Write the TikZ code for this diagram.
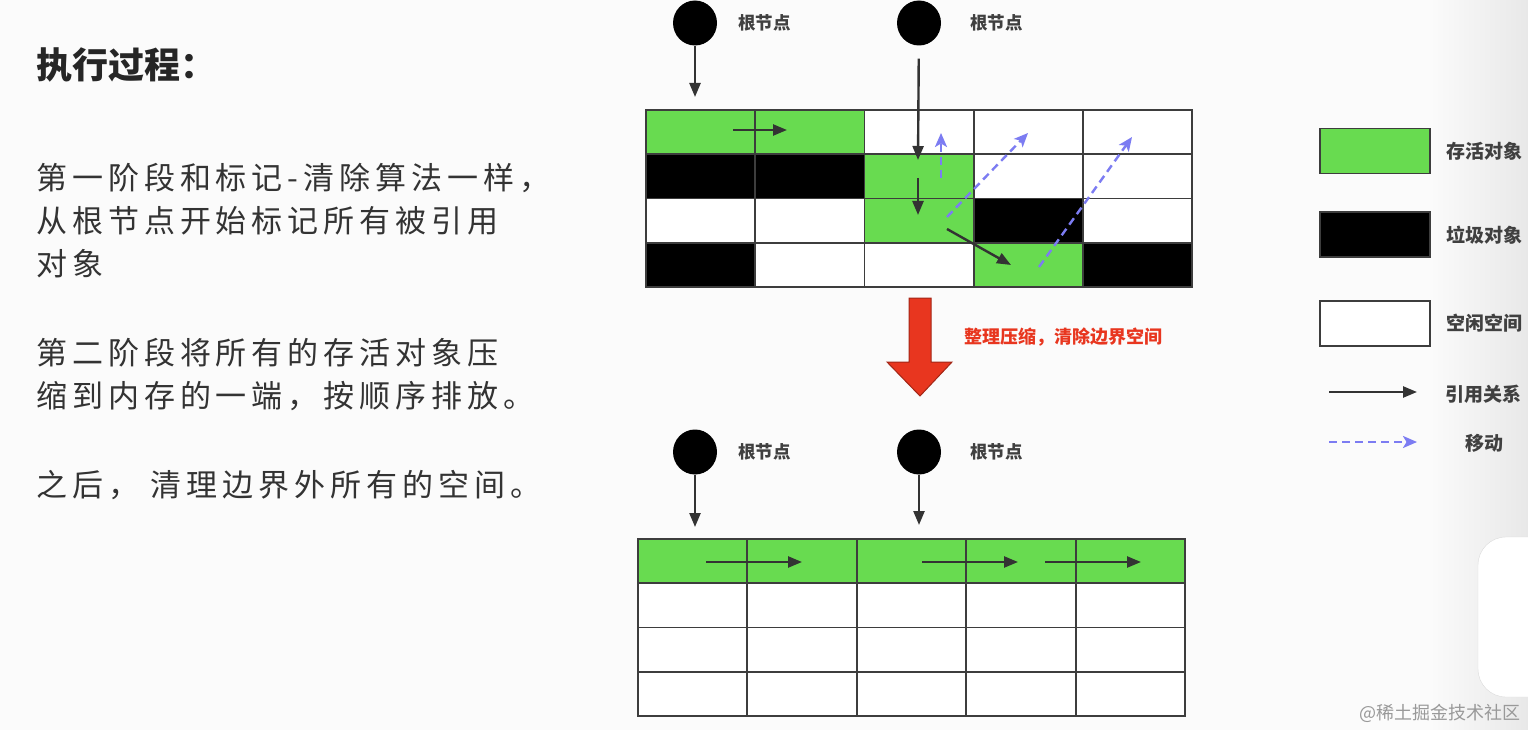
\documentclass[tikz,border=0pt]{standalone}
\usepackage{fontspec}
\usepackage{tikz}
\usetikzlibrary{positioning,arrows.meta}
\usetikzlibrary{shapes.geometric}
\newfontfamily\cjk{Noto Sans CJK SC}
\newfontfamily\cjkwide[LetterSpace=16]{Noto Sans CJK SC}
\definecolor{cL}{HTML}{68DB50}
\definecolor{cD}{HTML}{000000}
\definecolor{cF}{HTML}{FFFFFF}
\definecolor{gridc}{HTML}{3D3D3D}
\definecolor{refc}{HTML}{333333}
\definecolor{movec}{HTML}{7C7CF2}
\definecolor{squeezec}{HTML}{E8361F}
\definecolor{bgc}{HTML}{FBFBFB}
\tikzset{cell/.style={
        anchor=north west,
        minimum width=109.3pt,
        minimum height=44.25pt,
        inner sep=0pt, outer sep=0pt},
    gridline/.style={draw=gridc, line width=1.8pt},
    root/.style={ellipse, fill=black, minimum width=44pt, minimum height=45pt, inner sep=0pt},
    rootlbl/.style={font=\fontsize{17.5}{20}\cjk\bfseries, text=black!75, inner sep=0pt},
    ref/.style={draw=refc, line width=2.4pt, -{Triangle[length=14pt,width=11pt]}},
    move/.style={draw=movec, line width=2.4pt, dash pattern=on 8pt off 5pt,
        -{Stealth[length=14pt,width=12pt,inset=3.5pt]}},
    bodytext/.style={anchor=north west, align=left, inner sep=0pt,
        font=\fontsize{31}{43}\cjkwide, text=black!80},
    legbox/.style={draw=gridc, line width=1.8pt, minimum width=110pt, minimum height=45pt, inner sep=0pt},
    legtext/.style={font=\fontsize{19}{22}\cjk\bfseries, text=black!75, inner sep=0pt}
}

\begin{document}
\begin{tikzpicture}[x=1pt,y=-1pt]
\useasboundingbox (0,0) rectangle (1528,730);
\fill[bgc] (0,0) rectangle (1528,730);
\shade[left color=bgc, right color=black!9] (1430,0) rectangle (1528,730);
\draw[black!14, fill=white, rounded corners=28pt] (1478,537) rectangle (1570,697);

% left text
\node[anchor=west, inner sep=0pt, font=\fontsize{36}{40}\cjk\bfseries, text=black!85] (title) at (36,65) {执行过程：};
\node[bodytext] (para_1) at (36,163) {第一阶段和标记-清除算法一样，\\从根节点开始标记所有被引用\\对象};
\node[bodytext] (para_2) at (36,338) {第二阶段将所有的存活对象压\\缩到内存的一端，按顺序排放。};
\node[bodytext] (para_3) at (36,470) {之后， 清理边界外所有的空间。};

% before
\foreach \r/\row in {0/{L,L,F,F,F},1/{D,D,L,F,F},2/{F,F,L,D,F},3/{D,F,F,L,D}}
  \foreach \k [count=\c from 0] in \row
    \node[cell, fill=c\k] (top_\r_\c) at ({646+\c*109.2},{110+\r*44.25}) {};
\foreach \r in {0,...,3}
  \foreach \c in {0,...,4}
    \draw[gridline] (top_\r_\c.north west) rectangle (top_\r_\c.south east);

\node[root] (r_t1) at (695,23) {};
\node[root] (r_t2) at (919,23) {};
\node[rootlbl, right=21pt of r_t1] {根节点};
\node[rootlbl, right=29pt of r_t2] {根节点};

\coordinate (t_1) at (695,97);
\coordinate (t_2) at (918,160);
\coordinate (m_a) at (733,130);  \coordinate (m_b) at (787,130);
\coordinate (m_c) at (918,178);  \coordinate (m_d) at (918,215);
\coordinate (m_e) at (947,229);  \coordinate (m_f) at (1011,265);
\coordinate (v_1s) at (941,178); \coordinate (v_1e) at (941,133);
\coordinate (v_2s) at (947,217); \coordinate (v_2e) at (1028,133);
\coordinate (v_3s) at (1039,267);\coordinate (v_3e) at (1132,137);

\path[ref] (r_t1) -- (t_1);
\path[ref, shorten <=13pt] (r_t2) -- (t_2);
\path[ref] (m_a) -- (m_b);
\path[ref] (m_c) -- (m_d);
\path[ref] (m_e) -- (m_f);
\path[move] (v_1s) -- (v_1e);
\path[move] (v_2s) -- (v_2e);
\path[move] (v_3s) -- (v_3e);

% squeeze
\draw[fill=squeezec, draw=squeezec!70!black, line width=1pt]
  (909,298) -- (931,298) -- (931,362) -- (952,362) -- (920,396) -- (887,362) -- (909,362) -- cycle;
\node[anchor=west, inner sep=0pt, font=\fontsize{18}{20}\cjk\bfseries, text=squeezec] (squeeze_lbl) at (964,337) {整理压缩，清除边界空间};

% after
\foreach \r/\row in {0/{L,L,L,L,L},1/{F,F,F,F,F},2/{F,F,F,F,F},3/{F,F,F,F,F}}
  \foreach \k [count=\c from 0] in \row
    \node[cell, fill=c\k] (bot_\r_\c) at ({638+\c*109.4},{539+\r*44.25}) {};
\foreach \r in {0,...,3}
  \foreach \c in {0,...,4}
    \draw[gridline] (bot_\r_\c.north west) rectangle (bot_\r_\c.south east);

\node[root] (r_b1) at (695,452) {};
\node[root] (r_b2) at (919,452) {};
\node[rootlbl, right=21pt of r_b1] {根节点};
\node[rootlbl, right=29pt of r_b2] {根节点};

\coordinate (b_1) at (695,527);
\coordinate (b_2) at (919,525);
\coordinate (n_a) at (706,562);  \coordinate (n_b) at (802,562);
\coordinate (n_c) at (922,562);  \coordinate (n_d) at (1018,562);
\coordinate (n_e) at (1045,562); \coordinate (n_f) at (1141,562);
\path[ref] (r_b1) -- (b_1);
\path[ref] (r_b2) -- (b_2);
\path[ref] (n_a) -- (n_b);
\path[ref] (n_c) -- (n_d);
\path[ref] (n_e) -- (n_f);

% legend
\node[legbox, fill=cL] (leg_live) at (1375,151) {};
\node[legbox, fill=cD, below=37pt of leg_live] (leg_dead) {};
\node[legbox, fill=cF, below=42pt of leg_dead] (leg_free) {};
\node[legtext, right=15pt of leg_live] {存活对象};
\node[legtext, right=15pt of leg_dead] {垃圾对象};
\node[legtext, right=15pt of leg_free] {空闲空间};

\coordinate (lg_1s) at (1329,392); \coordinate (lg_1e) at (1417,392);
\coordinate (lg_2s) at (1329,442); \coordinate (lg_2e) at (1417,442);
\path[ref] (lg_1s) -- (lg_1e);
\path[move] (lg_2s) -- (lg_2e);
\node[legtext, anchor=west] at (1445,394) {引用关系};
\node[legtext, anchor=west] at (1465,443) {移动};

\node[anchor=east, inner sep=0pt, font=\fontsize{18}{20}\cjk, text=black!40] (mark) at (1521,713) {@稀土掘金技术社区};
\end{tikzpicture}
\end{document}
